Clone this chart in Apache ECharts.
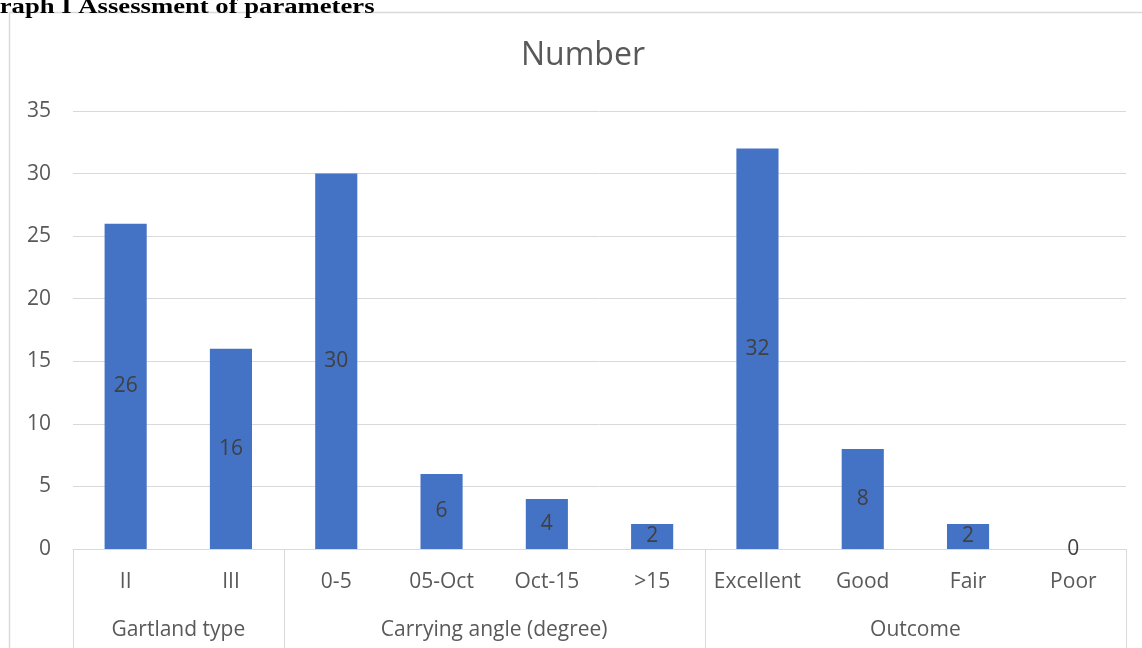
<!DOCTYPE html>
<html>
<head>
<meta charset="utf-8">
<script src="https://cdn.jsdelivr.net/npm/echarts@6/dist/echarts.min.js"></script>
<style>
  html, body { margin: 0; padding: 0; background: #fff; }
  #chart { width: 1142px; height: 648px; }
</style>
</head>
<body>
<div id="chart"></div>
<script>
// data
const categories = ['II', 'III', '0-5', '05-Oct', 'Oct-15', '>15', 'Excellent', 'Good', 'Fair', 'Poor'];
const values = [26, 16, 30, 6, 4, 2, 32, 8, 2, 0];
const groupNames = ['Gartland type', 'Carrying angle (degree)', 'Outcome'];
const groupSizes = [2, 4, 4];

const FONT = '"Open Sans"';
const GRAY = '#595959';
const LINE = '#d9d9d9';

const chart = echarts.init(document.getElementById('chart'));

chart.setOption({
  animation: false,
  grid: { left: 73, right: 16, top: 111, bottom: 99 },
  xAxis: {
    type: 'category',
    data: categories,
    axisLine: { lineStyle: { color: LINE } },
    axisTick: { show: false },
    axisLabel: { margin: 23, fontFamily: FONT, fontSize: 21, color: GRAY, interval: 0 }
  },
  yAxis: {
    type: 'value',
    min: 0,
    max: 35,
    interval: 5,
    axisLine: { show: false },
    axisTick: { show: false },
    axisLabel: { margin: 22, fontFamily: FONT, fontSize: 21, color: GRAY },
    splitLine: { lineStyle: { color: LINE } }
  },
  series: [{
    type: 'bar',
    data: values,
    barWidth: '40%',
    itemStyle: { color: '#4472c4' },
    label: {
      show: true,
      position: 'inside',
      fontFamily: FONT,
      fontSize: 21,
      color: '#404040'
    }
  }]
});

// group row under the category labels, placed through the axis scale
const c0 = chart.convertToPixel({ xAxisIndex: 0 }, categories[0]);
const c1 = chart.convertToPixel({ xAxisIndex: 0 }, categories[1]);
const band = c1 - c0;
const y0 = chart.convertToPixel({ yAxisIndex: 0 }, 0);

const graphics = [
  {
    type: 'rect',
    shape: { x: 9.5, y: 12.5, width: 1300, height: 800 },
    style: { fill: null, stroke: LINE, lineWidth: 1.5 },
    silent: true
  },
  {
    // chart title, centred on the chart frame (which runs past the right edge)
    type: 'text',
    x: 583,
    y: 56,
    style: {
      text: 'Number',
      fontFamily: FONT,
      fontSize: 32,
      fill: GRAY,
      textAlign: 'center',
      textVerticalAlign: 'middle'
    }
  },
  {
    // caption of the page the chart was cut from, clipped at the top left
    type: 'text',
    x: -21,
    y: 18,
    scaleX: 1.27,
    style: {
      text: 'Graph I Assessment of parameters',
      font: 'bold 21px "Liberation Serif", "Times New Roman", serif',
      fill: '#000',
      textVerticalAlign: 'bottom'
    }
  }
];

let start = 0;
const bounds = [c0 - band / 2];
groupSizes.forEach(function (n, i) {
  const left = c0 - band / 2 + start * band;
  const right = left + n * band;
  bounds.push(right);
  graphics.push({
    type: 'text',
    x: (left + right) / 2,
    y: y0 + 81,
    style: {
      text: groupNames[i],
      fontFamily: FONT,
      fontSize: 21,
      fill: GRAY,
      textAlign: 'center',
      textVerticalAlign: 'middle'
    }
  });
  start += n;
});
bounds.forEach(function (x) {
  const px = Math.round(x) + 0.5;
  graphics.push({
    type: 'line',
    shape: { x1: px, y1: y0, x2: px, y2: 660 },
    style: { stroke: LINE, lineWidth: 1 },
    silent: true
  });
});

chart.setOption({ graphic: graphics });
</script>
</body>
</html>
